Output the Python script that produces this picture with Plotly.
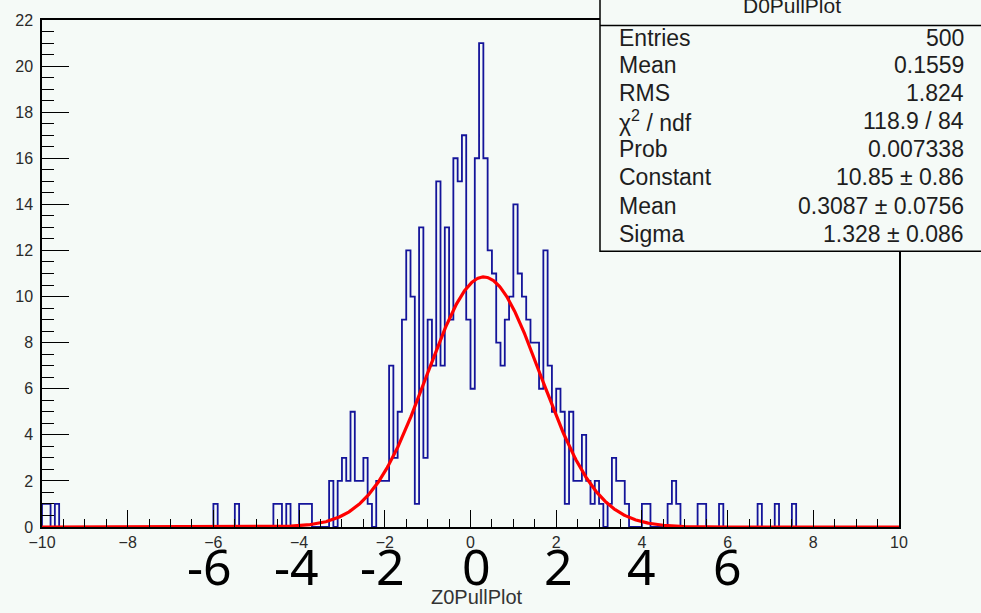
import numpy as np
import plotly.graph_objects as go

# ---------------- data ----------------
BIN_LO = -10.0
BIN_W = 0.1
COUNTS = [
    1, 1, 0, 1, 0, 0, 0, 0, 0, 0,      # -10.0 .. -9.0
    0, 0, 0, 0, 0, 0, 0, 0, 0, 0,
    0, 0, 0, 0, 0, 0, 0, 0, 0, 0,
    0, 0, 0, 0, 0, 0, 0, 0, 0, 0,
    1, 0, 0, 0, 0, 1, 0, 0, 0, 0,      # -6.0 .. -5.0
    0, 0, 0, 0, 1, 1, 0, 1, 0, 0,
    1, 1, 1, 0, 0, 0, 0, 2, 0, 2,      # -4.0 .. -3.0
    3, 2, 5, 2, 2, 3, 1, 0, 2, 2,
    2, 7, 3, 5, 9, 12, 10, 1, 13, 3,   # -2.0 .. -1.0
    9, 7, 15, 7, 13, 9, 16, 15, 17, 9,
    6, 16, 21, 16, 12, 11, 8, 7, 9, 10,  # 0.0 .. 1.0
    14, 11, 10, 9, 8, 8, 6, 12, 7, 5,
    6, 5, 1, 5, 2, 2, 4, 2, 1, 2,      # 2.0 .. 3.0
    1, 0, 1, 3, 2, 2, 1, 0, 0, 0,
    1, 1, 0, 0, 0, 0, 1, 2, 1, 0,      # 4.0 .. 5.0
    0, 0, 0, 1, 1, 0, 0, 0, 1, 0,
    0, 0, 0, 0, 0, 0, 0, 1, 0, 0,      # 6.0 .. 7.0
    0, 1, 0, 0, 0, 1, 0, 0, 0, 0,
    0, 0, 0, 0, 0, 0, 0, 0, 0, 0,      # 8.0 .. 9.0
    0, 0, 0, 0, 0, 0, 0, 0, 0, 0,
]
FIT_CONST, FIT_MEAN, FIT_SIGMA = 10.85, 0.3087, 1.328

STATS_TITLE = "D0PullPlot"
STAT_LABELS = ["Entries", "Mean", "RMS", "χ<sup>2</sup> / ndf", "Prob",
               "Constant", "Mean", "Sigma"]
STAT_VALUES = ["500", "0.1559", "1.824", "118.9 / 84", "0.007338",
               "10.85 ± 0.86", "0.3087 ± 0.0756", "1.328 ± 0.086"]

BIG_LABELS = ["-6", "-4", "-2", "0", "2", "4", "6"]
BIG_LABEL_X = [-6.1, -4.05, -2.05, 0.15, 2.05, 4.0, 6.0]
X_TITLE = "Z0PullPlot"

# ---------------- geometry ----------------
W, H = 981, 613
L, R, T, B = 42, 82, 14, 86
PW, PH = W - L - R, H - T - B
BG = "#f5faf7"
TXT = "#1e1e1e"


def px2x(px):
    return (px - L) / PW


def py2y(py):
    return (H - B - py) / PH


counts = np.array(COUNTS, dtype=float)
edges = BIN_LO + BIN_W * np.arange(len(counts) + 1)
hx = np.concatenate([[edges[0]], edges[:-1], [edges[-1]]])
hy = np.concatenate([[0.0], counts, [0.0]])

fx = np.linspace(-10, 10, 1200)
fy = FIT_CONST * np.exp(-0.5 * ((fx - FIT_MEAN) / FIT_SIGMA) ** 2)

fig = go.Figure()
fig.add_trace(go.Scatter(x=hx, y=hy, mode="lines", line_shape="hv",
                         line=dict(color="#14149a", width=1.8),
                         hoverinfo="skip", showlegend=False))
fig.add_trace(go.Scatter(x=fx, y=fy, mode="lines",
                         line=dict(color="#ff0000", width=3.2),
                         hoverinfo="skip", showlegend=False))

axis_common = dict(showline=True, linecolor="black", linewidth=1.5, mirror=True,
                   ticks="inside", tickcolor="black", tickwidth=1.4,
                   showgrid=False, zeroline=False,
                   tickfont=dict(family="Liberation Sans, Arial", size=16, color="#2a2a2a"))

fig.update_xaxes(range=[-10, 10], dtick=2, tick0=-10, ticklen=17,
                 minor=dict(dtick=0.5, ticklen=8, ticks="inside",
                            tickcolor="black", tickwidth=1.4),
                 ticklabelstandoff=0, **axis_common)
fig.update_yaxes(range=[0, 22], dtick=2, tick0=0, ticklen=27,
                 minor=dict(dtick=0.5, ticklen=12, ticks="inside",
                            tickcolor="black", tickwidth=1.4),
                 ticklabelstandoff=4, **axis_common)

shapes = [
    dict(type="rect", xref="paper", yref="paper",
         x0=px2x(600), x1=px2x(995), y0=py2y(248), y1=py2y(-20),
         fillcolor=BG, line=dict(color="black", width=1.5), layer="above"),
    dict(type="line", xref="paper", yref="paper",
         x0=px2x(600), x1=px2x(995), y0=py2y(19.5), y1=py2y(19.5),
         line=dict(color="black", width=1.5), layer="above"),
]

ann = []
ann.append(dict(text=STATS_TITLE, xref="paper", yref="paper",
                x=px2x(792), y=py2y(-1), xanchor="center", yanchor="middle",
                showarrow=False,
                font=dict(family="Liberation Sans, Arial", size=21, color=TXT)))
ROW_Y = [32, 60, 88, 116, 144.5, 173, 202, 230.5]
for lab, val, ry in zip(STAT_LABELS, STAT_VALUES, ROW_Y):
    ann.append(dict(text=lab, xref="paper", yref="paper", x=px2x(617), y=py2y(ry),
                    xanchor="left", yanchor="middle", showarrow=False,
                    font=dict(family="Liberation Sans, Arial", size=23, color=TXT)))
    ann.append(dict(text=val, xref="paper", yref="paper", x=px2x(966), y=py2y(ry),
                    xanchor="right", yanchor="middle", showarrow=False,
                    font=dict(family="Liberation Sans, Arial", size=23, color=TXT)))

for lab, xv in zip(BIG_LABELS, BIG_LABEL_X):
    ann.append(dict(text=lab, xref="x", yref="paper", x=xv, y=py2y(566),
                    xanchor="center", yanchor="middle", showarrow=False,
                    font=dict(family="Noto Sans", size=50, color="black")))

ann.append(dict(text=X_TITLE, xref="paper", yref="paper", x=px2x(477), y=py2y(598),
                xanchor="center", yanchor="middle", showarrow=False,
                font=dict(family="Liberation Sans, Arial", size=20, color="#333333")))

fig.update_layout(width=W, height=H, margin=dict(l=L, r=R, t=T, b=B, pad=0),
                  paper_bgcolor=BG, plot_bgcolor=BG,
                  shapes=shapes, annotations=ann, showlegend=False)

fig.write_html("out.html")
